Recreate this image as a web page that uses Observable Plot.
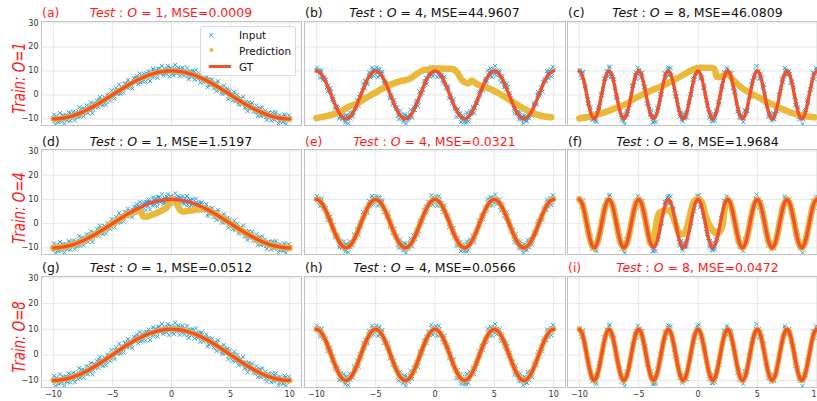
<!DOCTYPE html>
<html><head><meta charset="utf-8">
<script src="https://cdn.jsdelivr.net/npm/d3@7"></script>
<script src="https://cdn.jsdelivr.net/npm/@observablehq/plot@0.6"></script>
<style>
body{margin:0;background:#fff;}
#root{position:relative;width:817px;height:401px;overflow:hidden;font-family:"DejaVu Sans",sans-serif;background:#fff;}
.panel{position:absolute;}
.title{position:absolute;font-size:12.5px;line-height:16px;text-align:center;white-space:nowrap;color:#111;}
.tag{position:absolute;font-size:12.5px;line-height:16px;white-space:nowrap;color:#111;}
.red{color:#ff1a1a;}
.rowlab{position:absolute;color:#ff1a1a;font-style:italic;font-size:17.5px;line-height:20px;white-space:nowrap;}
.legtxt{position:absolute;font-size:10.5px;line-height:12px;color:#111;white-space:nowrap;}
</style></head>
<body><div id="root"></div>
<script>
// ---------- data ----------
const xTicks = [-10, -5, 0, 5, 10];
const yTicks = [-10, 0, 10, 20, 30];
const testOrders = [1, 4, 8];
const trainLabels = ["Train: O=1", "Train: O=4", "Train: O=8"];
const panelTags = [["(a)", "(b)", "(c)"], ["(d)", "(e)", "(f)"], ["(g)", "(h)", "(i)"]];
const mseValues = [["0.0009", "44.9607", "46.0809"], ["1.5197", "0.0321", "1.9684"], ["0.0512", "0.0566", "0.0472"]];
const legendLabels = ["Input", "Prediction", "GT"];

// noisy inputs, first set at x = -10, -9.875, ..., 10
const inputO1 = [-9.7,-10.8,-8.9,-10.1,-9.3,-11.1,-9.6,-8.7,-10.0,-10.4,-8.8,-7.7,-9.2,-8.5,-9.4,-7.6,-8.2,-6.9,-9.1,-6.8,
-7.5,-6.0,-7.2,-6.0,-4.7,-6.2,-5.2,-6.0,-3.9,-3.9,-4.0,-1.9,-3.9,-2.3,-2.6,-1.1,-2.8,-1.1,-0.1,-1.0,
0.5,-0.5,1.8,1.1,1.9,0.6,3.1,2.3,3.3,4.8,3.1,4.2,5.1,3.9,5.6,5.4,7.0,5.7,7.4,5.2,
7.3,8.0,7.3,8.9,7.3,8.8,8.4,7.5,9.7,9.4,8.6,10.9,9.1,9.7,10.3,8.9,10.2,11.0,9.3,10.0,
10.4,8.9,10.9,9.6,10.5,9.3,10.9,9.4,8.7,10.1,9.3,7.8,9.4,9.7,8.1,8.5,7.4,8.7,6.6,7.6,
8.5,6.2,6.5,6.9,5.7,4.1,6.1,5.3,4.2,4.8,2.9,4.6,3.0,3.2,1.1,2.2,2.4,0.8,2.1,-0.3,
0.3,-0.9,0.1,-2.2,-1.5,-1.4,-3.1,-1.5,-3.4,-3.1,-5.2,-3.5,-4.3,-5.5,-4.2,-5.7,-5.4,-7.1,-5.7,-7.0,
-5.6,-8.0,-7.3,-7.9,-9.2,-7.7,-7.6,-9.1,-8.7,-9.9,-8.1,-9.7,-8.8,-10.9,-9.3,-9.7,-10.5,-8.9,-10.5,-9.7,-9.8];
const inputO4 = [10.2,10.2,9.0,9.9,7.5,7.2,6.3,3.2,3.8,1.3,1.1,-2.4,-2.9,-4.9,-5.0,-6.5,-9.2,-8.9,-9.2,-10.6,
-8.5,-10.1,-8.7,-9.8,-7.6,-7.2,-4.9,-5.1,-2.9,-0.9,-1.4,2.0,2.8,5.7,5.1,7.7,8.2,7.9,10.4,9.4,
10.3,9.2,10.8,8.5,8.9,7.3,4.7,5.0,3.0,2.7,-0.9,-1.0,-3.4,-4.1,-5.0,-8.6,-8.3,-8.2,-9.5,-10.5,
-8.6,-9.6,-10.5,-8.1,-8.8,-6.9,-6.3,-3.5,-2.6,-2.9,0.1,2.3,2.3,4.3,7.1,6.6,8.7,8.6,10.4,8.8,
10.4,9.9,8.8,10.0,8.4,6.2,6.5,4.6,2.7,3.1,-0.6,-1.3,-2.3,-5.7,-6.0,-6.6,-8.9,-7.9,-9.8,-9.2,
-9.8,-11.5,-8.6,-9.4,-7.0,-7.3,-5.5,-5.5,-2.5,-1.6,-0.7,2.9,3.3,4.1,6.7,5.7,8.4,8.8,10.5,9.0,
10.5,9.3,10.2,9.0,6.9,8.0,5.6,4.9,2.3,3.2,-0.2,-1.3,-2.5,-5.6,-5.9,-7.7,-6.9,-8.7,-10.2,-9.1,
-10.4,-9.4,-11.0,-7.9,-8.2,-6.4,-6.8,-4.3,-3.4,-0.2,0.4,0.6,2.6,5.4,6.0,5.8,8.7,8.7,10.6,9.1,10.3];
const inputO8 = [10.4,8.4,9.0,5.6,3.7,-0.5,-1.9,-6.1,-8.9,-8.8,-9.9,-10.8,-7.6,-4.9,-3.5,0.2,2.4,6.7,7.1,9.8,
11.4,8.9,8.1,6.6,2.9,-1.5,-2.2,-5.5,-8.4,-8.9,-10.9,-8.4,-8.2,-5.4,-4.3,0.2,3.9,5.5,9.4,8.8,
10.3,9.0,9.0,4.9,3.2,0.6,-3.9,-4.7,-8.4,-9.1,-11.4,-8.8,-7.9,-6.5,-2.1,-0.1,3.6,5.0,8.9,9.3,
11.5,8.8,8.4,5.9,2.0,0.6,-2.2,-6.3,-7.9,-10.3,-8.9,-9.8,-7.4,-7.2,-2.7,0.1,2.5,6.9,7.6,9.8,
10.2,9.8,7.3,7.0,2.9,0.6,-4.4,-5.8,-7.2,-10.0,-11.0,-9.1,-6.7,-6.2,-2.9,-0.9,3.8,5.8,9.1,8.0,
10.5,9.1,8.9,5.2,3.3,1.2,-3.7,-5.9,-9.2,-8.9,-9.7,-9.7,-6.5,-6.7,-2.7,-0.3,4.0,4.7,8.2,10.2,
9.4,10.0,7.2,6.9,3.0,0.3,-4.5,-5.1,-8.5,-9.3,-8.7,-10.2,-8.1,-5.3,-4.1,0.4,2.9,7.0,7.6,10.4,
8.4,9.7,8.8,5.6,4.1,-0.8,-2.6,-6.0,-9.3,-8.7,-9.7,-10.1,-6.6,-6.3,-3.0,0.6,2.2,6.2,9.2,8.8,10.0];
// second set at x = -9.9375, -9.8125, ..., 9.9375
const inputO1b = [-8.2,-12.1,-9.6,-11.4,-7.6,-10.4,-8.5,-12.0,-8.6,-10.4,-7.2,-10.8,-8.5,-7.0,-10.6,-7.5,-9.3,-5.2,-8.4,-5.8,
-8.9,-6.0,-4.4,-7.6,-5.9,-3.2,-7.6,-3.6,-5.2,-2.3,-5.1,-0.9,-3.4,-4.4,-1.1,-4.1,0.1,-0.8,-2.3,1.9,
-0.1,-1.6,2.8,0.4,4.4,0.6,3.3,0.9,4.6,3.0,6.2,3.2,5.2,2.7,7.0,5.3,7.9,4.5,8.9,6.0,
5.6,8.7,5.6,8.9,9.9,5.8,9.0,10.8,7.7,10.3,7.1,11.0,9.0,12.1,8.1,10.6,8.9,12.1,7.7,11.3,
10.2,8.1,12.5,9.1,11.3,7.8,10.3,11.4,8.0,9.0,11.4,6.6,9.8,7.5,10.0,6.4,10.3,7.2,8.4,5.1,
8.8,5.2,6.6,8.0,3.2,6.6,4.4,6.4,2.8,4.8,1.5,5.7,1.9,3.0,0.3,3.9,1.0,2.3,-1.7,1.7,
-0.1,-2.3,1.2,-2.6,0.0,-4.1,-1.8,-3.8,-0.8,-5.2,-2.9,-6.8,-3.1,-5.7,-3.4,-7.0,-6.2,-4.4,-8.7,-6.0,
-8.8,-5.2,-8.5,-6.6,-10.4,-7.4,-8.2,-10.7,-7.3,-10.3,-7.2,-10.0,-11.9,-8.5,-9.2,-11.3,-8.1,-12.0,-9.7,-8.5];
const inputO4b = [11.4,10.0,7.2,10.3,6.2,7.1,6.4,1.5,1.8,2.9,-1.9,-0.6,-5.7,-4.8,-5.5,-9.8,-7.1,-10.0,-7.4,-11.5,
-9.0,-11.8,-7.3,-8.7,-8.9,-4.5,-5.8,-2.2,-4.7,0.3,-0.7,4.8,2.9,5.9,4.5,9.4,7.3,11.4,8.0,10.0,
11.4,7.4,10.5,8.1,9.7,4.7,5.7,2.8,4.7,-1.4,0.0,-3.9,-2.1,-5.9,-5.3,-10.1,-6.5,-8.9,-11.1,-8.0,
-12.0,-8.8,-9.7,-6.2,-9.4,-4.9,-6.3,-2.8,-4.7,1.4,0.5,0.8,5.6,5.8,4.5,9.0,7.7,11.7,7.8,10.1,
11.2,7.4,11.3,7.5,8.3,4.8,7.6,3.2,3.8,-1.4,0.3,-3.6,-1.8,-4.8,-9.1,-5.9,-7.6,-11.3,-8.5,-11.5,
-10.8,-7.4,-11.0,-6.6,-8.0,-4.9,-7.6,-3.3,-3.5,1.4,0.1,3.6,1.8,6.0,5.0,10.2,7.5,11.0,7.5,9.6,
12.0,8.0,9.4,10.0,5.3,7.5,3.3,3.3,4.7,-0.6,0.9,-3.1,-2.7,-7.7,-4.3,-7.8,-10.1,-7.3,-9.1,-11.9,
-8.5,-10.6,-6.7,-9.8,-6.9,-8.7,-3.6,-3.5,-4.1,1.2,-0.3,3.2,1.4,6.4,5.9,9.9,7.0,9.6,7.6,11.7];
const inputO8b = [10.1,7.0,9.6,3.7,3.0,-3.6,-3.9,-5.3,-10.4,-10.2,-7.7,-11.3,-6.1,-5.6,0.0,-0.2,6.8,6.6,9.8,7.8,
11.8,7.5,7.4,6.5,-0.9,-0.4,-5.2,-5.4,-10.5,-9.1,-12.1,-6.5,-8.1,-4.0,-3.4,3.7,4.1,8.4,6.6,11.4,
10.0,7.2,9.3,3.3,3.4,-3.6,-3.8,-8.0,-6.4,-11.4,-8.8,-11.3,-5.5,-5.1,0.4,0.3,4.3,9.0,6.8,10.8,
8.3,11.2,6.3,5.9,-0.6,-0.6,-4.1,-9.0,-7.2,-11.0,-7.8,-9.4,-9.4,-3.3,-1.0,0.2,6.3,5.1,9.2,11.4,
11.7,6.8,7.5,3.0,3.9,-2.2,-3.3,-9.5,-8.0,-11.0,-7.9,-10.7,-6.8,-2.9,-3.8,2.3,3.2,9.6,8.0,11.3,
7.9,9.5,9.0,2.9,1.4,0.6,-7.0,-6.0,-9.7,-8.2,-11.3,-6.5,-7.6,-6.4,-0.6,-0.7,6.0,7.3,7.2,12.0,
9.6,6.7,8.9,3.5,4.2,-3.1,-3.7,-9.1,-7.6,-10.6,-7.7,-10.1,-6.6,-6.9,0.0,1.2,6.4,5.3,11.2,9.0,
8.3,10.1,5.0,5.4,3.3,-4.2,-4.1,-5.1,-10.2,-8.8,-12.1,-7.4,-7.7,-2.1,-3.3,2.3,3.5,9.2,6.6,11.2];

// ground truth, x from -10 to 10 every 0.25
const gtO1 = [-10,-9.97,-9.88,-9.72,-9.51,-9.24,-8.91,-8.53,-8.09,-7.60,-7.07,-6.49,-5.88,-5.23,-4.54,-3.83,-3.09,-2.33,-1.56,-0.79,
0,0.79,1.56,2.33,3.09,3.83,4.54,5.23,5.88,6.49,7.07,7.60,8.09,8.53,8.91,9.24,9.51,9.72,9.88,9.97,
10,9.97,9.88,9.72,9.51,9.24,8.91,8.53,8.09,7.60,7.07,6.49,5.88,5.23,4.54,3.83,3.09,2.33,1.56,0.79,
0,-0.79,-1.56,-2.33,-3.09,-3.83,-4.54,-5.23,-5.88,-6.49,-7.07,-7.60,-8.09,-8.53,-8.91,-9.24,-9.51,-9.72,-9.88,-9.97,-10];
const gtO4 = [10,9.51,8.09,5.88,3.09,0,-3.09,-5.88,-8.09,-9.51,-10,-9.51,-8.09,-5.88,-3.09,0,3.09,5.88,8.09,9.51,
10,9.51,8.09,5.88,3.09,0,-3.09,-5.88,-8.09,-9.51,-10,-9.51,-8.09,-5.88,-3.09,0,3.09,5.88,8.09,9.51,
10,9.51,8.09,5.88,3.09,0,-3.09,-5.88,-8.09,-9.51,-10,-9.51,-8.09,-5.88,-3.09,0,3.09,5.88,8.09,9.51,
10,9.51,8.09,5.88,3.09,0,-3.09,-5.88,-8.09,-9.51,-10,-9.51,-8.09,-5.88,-3.09,0,3.09,5.88,8.09,9.51,10];
const gtO8 = [10,8.09,3.09,-3.09,-8.09,-10,-8.09,-3.09,3.09,8.09,10,8.09,3.09,-3.09,-8.09,-10,-8.09,-3.09,3.09,8.09,
10,8.09,3.09,-3.09,-8.09,-10,-8.09,-3.09,3.09,8.09,10,8.09,3.09,-3.09,-8.09,-10,-8.09,-3.09,3.09,8.09,
10,8.09,3.09,-3.09,-8.09,-10,-8.09,-3.09,3.09,8.09,10,8.09,3.09,-3.09,-8.09,-10,-8.09,-3.09,3.09,8.09,
10,8.09,3.09,-3.09,-8.09,-10,-8.09,-3.09,3.09,8.09,10,8.09,3.09,-3.09,-8.09,-10,-8.09,-3.09,3.09,8.09,10];

// predictions that leave the ground truth, [x, y]
const predB = [[-10,-9.6],[-9,-8.6],[-8,-7.1],[-7.3,-5.0],[-6.6,-3.6],[-5.8,-1.2],[-4.9,1.3],[-4.2,3.2],[-3.5,4.8],[-2.8,5.8],[-2.1,6.8],[-1.6,8.5],[-1.1,10.1],[-0.4,10.8],[0.2,11.0],[0.9,10.9],[1.6,10.6],[1.9,9.2],[2.2,6.6],[2.5,5.3],[2.8,4.8],[3.1,6.0],[3.5,4.6],[4.0,3.5],[4.7,2.4],[5.4,0.6],[6.1,-1.5],[6.8,-3.7],[7.5,-5.7],[8.1,-7.2],[8.6,-8.2],[9.2,-9.0],[9.8,-9.3]];
const predC = [[-10,-9.8],[-9.1,-9.0],[-8.2,-7.8],[-7.1,-5.8],[-6.0,-3.6],[-5.3,-1.4],[-4.5,0.6],[-3.8,2.2],[-3.2,3.3],[-2.5,5.0],[-1.8,6.8],[-0.9,9.3],[-0.1,11.2],[0.7,11.3],[1.35,11.0],[1.6,7.5],[2.0,7.8],[2.5,8.6],[3.0,6.0],[3.6,3.3],[4.2,1.3],[5.3,-1.5],[6.0,-3.3],[6.7,-5.0],[7.4,-6.5],[8.1,-7.8],[8.8,-8.6],[9.4,-9.1],[9.8,-9.3]];
const predD = [[-10,-10],[-9.5,-9.88],[-9,-9.51],[-8.5,-8.91],[-8,-8.09],[-7.5,-7.07],[-7,-5.88],[-6.5,-4.54],[-6,-3.09],[-5.5,-1.56],[-5,0],[-4.5,1.56],[-4,3.09],[-3.5,4.4],[-3.0,5.2],[-2.7,5.5],[-2.4,3.0],[-2.2,2.8],[-1.5,3.9],[-0.8,5.5],[-0.4,6.7],[-0.1,9.5],[0.1,10.2],[0.4,8.6],[0.7,5.8],[0.9,5.0],[1.3,5.2],[1.9,5.6],[2.5,6.2],[3,5.9],[3.5,4.54],[4,3.09],[4.5,1.56],[5,0],[5.5,-1.56],[6,-3.09],[6.5,-4.54],[7,-5.88],[7.5,-7.07],[8,-8.09],[8.5,-8.91],[9,-9.51],[9.5,-9.88],[10,-10]];
const predF = [[-10,10],[-9.75,8.09],[-9.5,3.09],[-9.25,-3.09],[-9,-8.09],[-8.75,-10],[-8.5,-8.09],[-8.25,-3.09],[-8,3.09],[-7.75,8.09],[-7.5,10],[-7.25,8.09],[-7,3.09],[-6.75,-3.09],[-6.5,-8.09],[-6.25,-10],[-6,-8.09],[-5.75,-3.09],[-5.5,3.09],[-5.25,8.09],[-5,10],[-4.75,8.09],[-4.5,3.09],[-4.25,-3.09],[-4,-8.09],
[-3.75,-6.5],[-3.5,0.5],[-3.25,4.5],[-2.9,5.3],[-2.5,5.6],[-2.2,4.0],[-1.9,0],[-1.6,-3.8],[-1.2,-4.2],[-0.9,-1.0],[-0.6,5.0],[-0.3,9.5],[0,10.2],[0.3,9.0],[0.6,4.0],[0.9,0],[1.2,-2.5],[1.6,-4.2],[2.0,-2.0],[2.25,6.0],[2.5,10],
[2.75,8.09],[3,3.09],[3.25,-3.09],[3.5,-8.09],[3.75,-10],[4,-8.09],[4.25,-3.09],[4.5,3.09],[4.75,8.09],[5,10],[5.25,8.09],[5.5,3.09],[5.75,-3.09],[6,-8.09],[6.25,-10],[6.5,-8.09],[6.75,-3.09],[7,3.09],[7.25,8.09],[7.5,10],[7.75,8.09],[8,3.09],[8.25,-3.09],[8.5,-8.09],[8.75,-10],[9,-8.09],[9.25,-3.09],[9.5,3.09],[9.75,8.09],[10,10]];

// ---------- layout & style ----------
const BLUE = "#2fa2dc", YELLOW = "#e8b93a", RED = "#f2522b";
const cols = [{left: 41, w: 260}, {left: 304, w: 261}, {left: 567, w: 261}];
const rows = [{top: 21, h: 104, title: 13}, {top: 149, h: 105, title: 142}, {top: 276, h: 111, title: 268}];
const rowLabelY = [78, 208, 337];

const root = document.getElementById("root");
const xFine = d3.range(161).map(i => -10 + i / 8);
const xMid = d3.range(160).map(i => -9.9375 + i / 8);
const xCoarse = d3.range(81).map(i => -10 + i / 4);
const toPts = (xs, ys) => ys.map((y, i) => ({x: xs[i], y}));
const inputs = [[inputO1, inputO1b], [inputO4, inputO4b], [inputO8, inputO8b]]
  .map(([a, b]) => toPts(xFine, a).concat(toPts(xMid, b)));
const gts = [gtO1, gtO4, gtO8].map(ys => toPts(xCoarse, ys));
const customPred = {"0,1": predB, "0,2": predC, "1,0": predD, "1,2": predF};

for (let r = 0; r < 3; r++) {
  for (let c = 0; c < 3; c++) {
    const col = cols[c], row = rows[r];
    const custom = customPred[`${r},${c}`];
    const pred = custom ? custom.map(([x, y]) => ({x, y})) : gts[c];
    const marks = [
      Plot.gridX(xTicks, {stroke: "#e2e2e2", strokeOpacity: 1, strokeWidth: 0.8}),
      Plot.gridY(yTicks, {stroke: "#e2e2e2", strokeOpacity: 1, strokeWidth: 0.8}),
      Plot.dot(inputs[c], {x: "x", y: "y", symbol: "times", r: 2, stroke: BLUE, strokeWidth: 1}),
      Plot.line(pred, {x: "x", y: "y", stroke: YELLOW, strokeWidth: custom ? 6.5 : 5.5, curve: custom ? "catmull-rom" : "natural", strokeLinecap: "round", strokeLinejoin: "round"}),
      Plot.line(gts[c], {x: "x", y: "y", stroke: RED, strokeWidth: 3.4, curve: "natural"}),
      Plot.frame({stroke: "#c2c2c2", strokeWidth: 1})
    ];
    if (c === 0) marks.push(Plot.axisY(yTicks, {tickSize: 0, tickPadding: 3, label: null, fontSize: 8}));
    if (r === 2) marks.push(Plot.axisX(xTicks, {tickSize: 0, tickPadding: 4, label: null, fontSize: 8}));
    const svg = Plot.plot({
      width: col.w, height: row.h,
      marginTop: 0, marginRight: 0, marginBottom: 0, marginLeft: 0,
      x: {domain: [-11, 11], axis: r === 2 ? undefined : null},
      y: {domain: [-12.75, 30.6], axis: c === 0 ? undefined : null},
      style: {overflow: "visible", background: "transparent", fontFamily: "'DejaVu Sans', sans-serif", fontSize: "8px", color: "#333"},
      marks
    });
    svg.classList.add("panel");
    svg.style.position = "absolute";
    svg.style.left = col.left + "px";
    svg.style.top = row.top + "px";
    root.appendChild(svg);

    const isRed = r === c;
    const t = document.createElement("div");
    t.className = "title" + (isRed ? " red" : "");
    t.style.left = col.left + "px";
    t.style.width = col.w + "px";
    t.style.top = (row.title - 8) + "px";
    t.innerHTML = `<i>Test</i> : <i>O</i> = ${testOrders[c]}, MSE=${mseValues[r][c]}`;
    root.appendChild(t);

    const g = document.createElement("div");
    g.className = "tag" + (isRed ? " red" : "");
    g.style.left = (col.left + 1) + "px";
    g.style.top = (row.title - 8) + "px";
    g.textContent = panelTags[r][c];
    root.appendChild(g);
  }
  const lab = document.createElement("div");
  lab.className = "rowlab";
  lab.style.left = "19px";
  lab.style.top = rowLabelY[r] + "px";
  lab.style.transform = "translate(-50%,-50%) rotate(-90deg) scaleX(0.76)";
  lab.textContent = trainLabels[r];
  root.appendChild(lab);
}

// legend in panel (a)
const leg = document.createElement("div");
leg.style.cssText = "position:absolute;left:200px;top:26px;width:94px;height:48px;border:1px solid #dadada;border-radius:3px;background:rgba(255,255,255,0.85);";
leg.innerHTML = `<svg width="36" height="48" style="position:absolute;left:0;top:0">
<path d="M8.2,6.2L12.2,10.2M12.2,6.2L8.2,10.2" stroke="${BLUE}" stroke-width="1"/>
<path d="M10.5,20.5L13,23L10.5,25.5L8,23Z" fill="${YELLOW}"/>
<line x1="8" y1="39.5" x2="30" y2="39.5" stroke="${RED}" stroke-width="3"/>
</svg>`;
legendLabels.forEach((s, i) => {
  const d = document.createElement("div");
  d.className = "legtxt";
  d.style.left = "38px";
  d.style.top = (2 + i * 16) + "px";
  d.textContent = s;
  leg.appendChild(d);
});
root.appendChild(leg);
</script>
</body></html>
